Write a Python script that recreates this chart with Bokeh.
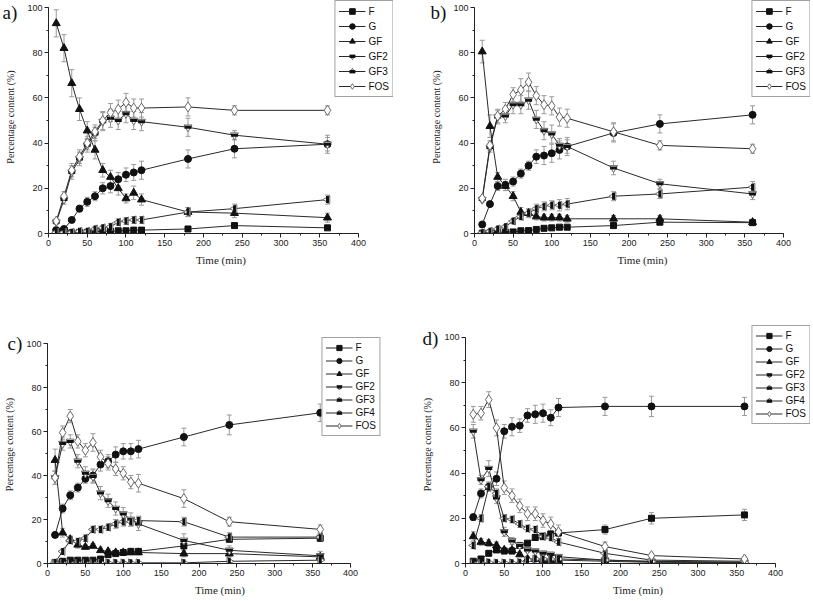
import math
from bokeh.plotting import figure
from bokeh.models import (ColumnDataSource, Whisker, TeeHead, Legend, LegendItem, Label,
                          SingleIntervalTicker, Range1d)
from bokeh.layouts import column, row
from bokeh.embed import file_html
from bokeh.resources import INLINE

time_min = [10, 20, 30, 40, 50, 60, 70, 80, 90, 100, 110, 120, 180, 240, 360]

# ---------------- panel a ----------------
a_F = [1.0, 1.5, 0.3, 0.5, 0.5, 0.8, 1.0, 1.0, 1.2, 1.2, 1.5, 1.5, 2.0, 3.5, 2.5]
a_G = [1.5, 2.0, 6.0, 11.0, 14.0, 16.5, 20.0, 21.0, 24.0, 26.0, 27.0, 28.0, 33.0, 37.5, 39.5]
a_GF = [93, 82, 66.5, 55, 45.5, 37, 28, 25, 20, 15.5, 18, 15, 9.5, 9, 7]
a_GF2 = [5, 15, 27, 33, 39, 44, 49.5, 51, 50, 53, 50, 49.5, 47, 43.5, 39.5]
a_GF3 = [0.5, 0.5, 0.5, 1, 1, 2, 2.5, 3, 5, 5.5, 6, 6, 9.5, 11, 15]
a_FOS = [5.5, 16.5, 28, 34, 40, 45, 50, 53.5, 55, 58, 55.5, 55.5, 56, 54.5, 54.5]
a_F_err = [0.5, 0.5, 0.3, 0.3, 0.3, 0.5, 0.5, 0.5, 0.5, 0.5, 0.5, 0.5, 0.8, 0.8, 0.8]
a_G_err = [0.5, 0.8, 1, 1.5, 2, 2, 2.5, 3, 3, 3, 3.5, 4, 4, 4, 4]
a_GF_err = [6, 6, 6, 5, 4, 4, 3, 3, 3, 2, 3, 2.5, 2, 2, 2]
a_GF2_err = [1, 2, 3, 3, 3, 3, 4, 4, 4, 4, 4, 4, 4, 2, 3]
a_GF3_err = [0.3, 0.3, 0.5, 0.5, 0.5, 1, 1, 1.5, 1.5, 1.5, 1.5, 1.5, 2, 2, 2]
a_FOS_err = [1, 2, 3, 3, 3, 3, 4, 4, 4, 4, 4, 4, 4, 2, 2]

# ---------------- panel b ----------------
b_F = [0.1, 0.3, 0.5, 0.6, 0.7, 1.2, 1.3, 1.8, 2.3, 2.5, 2.8, 2.8, 3.5, 5.0, 4.8]
b_G = [4, 13, 21, 21.5, 23, 26.5, 30, 34, 34.5, 35.5, 37, 38.5, 44.5, 48.5, 52.5]
b_GF = [80.5, 47.5, 25, 21, 16.5, 9.5, 9, 7.5, 7, 7, 7, 6.5, 6.5, 6.5, 5]
b_GF2 = [15, 38, 51.5, 52, 57, 57, 59, 50.5, 45.5, 44, 39, 38.5, 29, 22, 17.5]
b_GF3 = [0.3, 1, 2, 3, 5.5, 7.5, 9, 11, 12, 12.5, 12.5, 13, 16.5, 17.5, 20.5]
b_FOS = [15.5, 39, 52, 55, 61.5, 63.5, 67, 61, 57, 56.5, 51.5, 51, 45, 39, 37.5]
b_F_err = [0.2, 0.3, 0.3, 0.3, 0.3, 0.4, 0.4, 0.5, 0.5, 0.5, 0.5, 0.5, 0.8, 1, 1]
b_G_err = [0.5, 1, 2, 2.5, 2, 2, 2, 3, 4, 4, 4, 4, 4, 4, 4]
b_GF_err = [5, 5, 2, 2, 2, 2, 2, 1.5, 1.5, 1.5, 1.5, 1.5, 1.5, 1.5, 1]
b_GF2_err = [1, 2, 3, 3, 4, 4, 4, 4, 4, 4, 3, 3, 3, 2, 2.5]
b_GF3_err = [0.3, 0.5, 1, 1, 1, 1.5, 1.5, 2, 2, 2, 2.5, 2.5, 2, 2, 2.5]
b_FOS_err = [1, 2, 3, 3, 3, 5, 4, 4, 4, 4, 4, 4, 4, 2, 2]

# ---------------- panel c ----------------
c_F = [0.5, 1, 1.5, 1.5, 1.5, 1.5, 2, 4, 4.5, 5, 5.5, 5.5, 8, 11, 11.5]
c_G = [13, 25, 31, 34.5, 38.5, 40, 45, 46.5, 49.5, 51, 51, 52, 57.5, 63, 68.5]
c_GF = [47, 14, 11, 8.5, 7.5, 8, 6, 5.5, 5, 5, 5, 5, 4.5, 4.5, 3]
c_GF2 = [39, 54.5, 55.5, 46.5, 41, 39.5, 32, 28.5, 25, 22.5, 20, 18, 10.5, 6, 3.5]
c_GF3 = [0.5, 5.5, 10.5, 10, 11.5, 15.5, 15.5, 16.5, 18, 19, 19, 19.5, 19, 12, 12]
c_GF4 = [0, 0, 0, 0, 0, 0, 0.2, 0.3, 0.3, 0.3, 0.3, 0.3, 0.3, 1, 1.5]
c_FOS = [39, 59.5, 67, 55.5, 51.5, 55, 48.5, 45.5, 43, 41, 37, 36.5, 29.5, 19, 15.5]
c_F_err = [0.3, 0.3, 0.3, 0.3, 0.3, 0.3, 0.3, 0.5, 0.5, 0.5, 0.5, 0.5, 1, 1, 1]
c_G_err = [1, 2, 2, 2, 2, 3, 3, 3, 3.5, 3.5, 3.5, 4, 4, 4.5, 4]
c_GF_err = [5, 2, 1.5, 1.5, 1, 1, 1, 1, 1, 1, 1, 1, 1.5, 1.5, 1]
c_GF2_err = [3, 3, 3, 3, 3, 3, 3, 3, 3, 3, 3, 3, 3, 2, 2]
c_GF3_err = [0.5, 1, 1.5, 1.5, 1.5, 1.5, 1.5, 1.5, 2, 2, 2, 2, 2, 2, 2]
c_GF4_err = [0.2, 0.2, 0.2, 0.2, 0.2, 0.2, 0.2, 0.3, 0.3, 0.3, 0.3, 0.3, 0.5, 0.5, 0.5]
c_FOS_err = [3, 3, 3, 3, 3, 4, 3, 3, 3, 3, 3, 4, 4, 2, 2]

# ---------------- panel d ----------------
d_F = [1, 2, 4.5, 6, 5.5, 5.5, 8, 9, 11.5, 12, 13, 13.5, 15, 20, 21.5]
d_G = [20.5, 31, 34, 37.5, 58.5, 60.5, 61, 65.5, 66, 66.5, 64.5, 69, 69.5, 69.5, 69.5]
d_GF = [12, 9.5, 9, 8, 6, 6, 4, 2, 2, 1.5, 1.5, 1.5, 1, 0.5, 0.5]
d_GF2 = [58.5, 37, 42, 29, 14, 10, 8, 6, 5.5, 4.5, 4, 3, 1.5, 1, 0.5]
d_GF3 = [8, 20, 34, 31, 20, 19.5, 17.5, 15.5, 15, 12, 11.5, 9.5, 4.5, 1.5, 1]
d_GF4 = [0, 0, 0.5, 0.3, 0.3, 0.3, 0.5, 1.5, 2, 2, 2, 2, 1.5, 0.8, 0.5]
d_FOS = [66, 66.5, 72.5, 60, 33.5, 30, 25.5, 22, 22, 19, 17.5, 14, 7.5, 3.5, 2]
d_F_err = [0.5, 0.5, 0.8, 1, 1, 1, 1, 1, 1, 1.5, 1.5, 1.5, 2, 2.5, 2.5]
d_G_err = [1.5, 2, 2, 3, 3, 4, 3, 3, 4, 4, 3.5, 4, 4, 4.5, 4]
d_GF_err = [2, 1.5, 1.5, 1.5, 1, 1, 1, 1, 1, 0.8, 0.8, 0.8, 0.5, 0.5, 0.5]
d_GF2_err = [3, 2, 3.5, 2.5, 2, 1.5, 1, 1, 1, 1, 1, 1, 0.5, 0.5, 0.5]
d_GF3_err = [1.5, 1.5, 2, 2, 1.5, 1.5, 1.5, 1.5, 1.5, 1.5, 1.5, 1.5, 1, 0.5, 0.5]
d_GF4_err = [0.2, 0.2, 0.3, 0.3, 0.3, 0.3, 0.3, 0.5, 0.5, 0.5, 0.5, 0.5, 0.5, 0.3, 0.3]
d_FOS_err = [3.5, 3, 3.5, 3.5, 3, 3, 3, 3, 3, 3, 3, 3, 2, 1, 1]

x_tick_interval = 50
y_tick_interval = 20
x_label = "Time (min)"
y_label = "Percentage content (%)"

# ---------------- styling ----------------
DARK = "#111111"
LINE = "#2a2a2a"
ERR = "#9a9a9a"
HOLLOW = "#6a6a6a"
MARKERS = {
    "F": [dict(marker="square", size=6, fill_color=DARK, line_color=DARK)],
    "G": [dict(marker="circle", size=7, fill_color=DARK, line_color=DARK)],
    "GF": [dict(marker="triangle", size=8, fill_color=DARK, line_color=DARK)],
    "GF2": [dict(marker="inverted_triangle", size=8, fill_color="white", line_color=HOLLOW),
            dict(marker="dash", size=7, line_width=3, line_color=DARK)],
    "GF3": [dict(marker="triangle", size=8, angle=math.pi / 2, fill_color="white", line_color=HOLLOW),
            dict(marker="dash", size=7, angle=math.pi / 2, line_width=3, line_color=DARK)],
    "GF4": [dict(marker="triangle", size=8, angle=-math.pi / 2, fill_color="white", line_color=HOLLOW),
            dict(marker="dash", size=7, angle=math.pi / 2, line_width=3, line_color=DARK)],
    "FOS": [dict(marker="diamond", size=10, fill_color="white", line_color=HOLLOW)],
}


def make_panel(letter, series, errors, width, height, bl, br, bt, bb, x_end, y_end,
               letter_side, letter_x, letter_y, item_h, spacing, legend_margin):
    p = figure(width=width, height=height, output_backend="svg", toolbar_location=None,
               x_range=Range1d(0, x_end), y_range=Range1d(0, y_end),
               min_border_left=bl, min_border_right=br, min_border_top=bt, min_border_bottom=bb)
    p.outline_line_color = None
    p.xgrid.visible = False
    p.ygrid.visible = False
    p.background_fill_color = "white"
    p.border_fill_color = "white"

    for ax, interval, bounds, lab in ((p.xaxis[0], x_tick_interval, (0, 400), x_label),
                                      (p.yaxis[0], y_tick_interval, (0, 100), y_label)):
        ax.ticker = SingleIntervalTicker(interval=interval, num_minor_ticks=2)
        ax.bounds = bounds
        ax.axis_label = lab
        ax.axis_label_text_font = "Liberation Serif"
        ax.axis_label_text_font_style = "normal"
        ax.axis_label_text_color = "#222222"
        ax.major_label_text_font = "Liberation Sans"
        ax.major_label_text_font_size = "9px"
        ax.major_label_text_color = "#222222"
        ax.major_label_standoff = 2
        ax.axis_line_color = "#222222"
        ax.major_tick_line_color = "#222222"
        ax.minor_tick_line_color = "#222222"
        ax.major_tick_out = 4
        ax.major_tick_in = 0
        ax.minor_tick_out = 2
        ax.minor_tick_in = 0
    p.xaxis.axis_label_text_font_size = "11px"
    p.xaxis.axis_label_standoff = 5
    p.yaxis.axis_label_text_font_size = "10px"
    p.yaxis.axis_label_standoff = 8

    items = []
    for name in series:
        vals = series[name]
        errs = errors[name]
        src = ColumnDataSource(dict(
            t=time_min, v=vals,
            upper=[v + e for v, e in zip(vals, errs)],
            lower=[v - e for v, e in zip(vals, errs)]))
        wh = Whisker(source=src, base="t", upper="upper", lower="lower",
                     line_color=ERR, line_width=1, level="underlay",
                     upper_head=TeeHead(size=5, line_color=ERR, line_width=1),
                     lower_head=TeeHead(size=5, line_color=ERR, line_width=1))
        p.add_layout(wh)
        rs = [p.line("t", "v", source=src, line_color=LINE, line_width=1)]
        for m in MARKERS[name]:
            rs.append(p.scatter("t", "v", source=src, **m))
        items.append(LegendItem(label=name, renderers=rs))

    leg = Legend(items=items, location="top_right", margin=legend_margin, padding=3,
                 spacing=spacing,
                 label_text_font="Liberation Sans", label_text_font_size="10px",
                 label_text_color="#111111",
                 glyph_width=27, glyph_height=item_h, label_height=item_h, label_standoff=3,
                 border_line_color="#444444", border_line_width=1,
                 background_fill_color="white", background_fill_alpha=1)
    p.add_layout(leg)

    # panel letter, held in a side panel that has spare room (so it is not clipped)
    p.add_layout(Label(x=letter_x, y=letter_y, x_units="screen", y_units="screen",
                       text=letter, text_font="Liberation Serif", text_font_size="19px",
                       text_baseline="top", text_align="left", text_color="#111111"),
                 letter_side)
    return p


pa = make_panel("a)",
                {"F": a_F, "G": a_G, "GF": a_GF, "GF2": a_GF2, "GF3": a_GF3, "FOS": a_FOS},
                {"F": a_F_err, "G": a_G_err, "GF": a_GF_err, "GF2": a_GF2_err,
                 "GF3": a_GF3_err, "FOS": a_FOS_err},
                width=405, height=297, bl=48, br=12, bt=0, bb=64, x_end=445.2, y_end=103.1,
                letter_side="below", letter_x=-46, letter_y=288, item_h=14, spacing=1,
                legend_margin=0)
pb = make_panel("b)",
                {"F": b_F, "G": b_G, "GF": b_GF, "GF2": b_GF2, "GF3": b_GF3, "FOS": b_FOS},
                {"F": b_F_err, "G": b_G_err, "GF": b_GF_err, "GF2": b_GF2_err,
                 "GF3": b_GF3_err, "FOS": b_FOS_err},
                width=406, height=297, bl=69, br=1, bt=0, bb=64, x_end=435.0, y_end=103.1,
                letter_side="below", letter_x=-44, letter_y=288, item_h=14, spacing=1,
                legend_margin=0)
pc = make_panel("c)",
                {"F": c_F, "G": c_G, "GF": c_GF, "GF2": c_GF2, "GF3": c_GF3, "GF4": c_GF4,
                 "FOS": c_FOS},
                {"F": c_F_err, "G": c_G_err, "GF": c_GF_err, "GF2": c_GF2_err,
                 "GF3": c_GF3_err, "GF4": c_GF4_err, "FOS": c_FOS_err},
                width=405, height=302, bl=47, br=13, bt=28, bb=36, x_end=455.4, y_end=108.2,
                letter_side="above", letter_x=-40, letter_y=-7, item_h=13, spacing=0,
                legend_margin=12)
pd_ = make_panel("d)",
                 {"F": d_F, "G": d_G, "GF": d_GF, "GF2": d_GF2, "GF3": d_GF3, "GF4": d_GF4,
                  "FOS": d_FOS},
                 {"F": d_F_err, "G": d_G_err, "GF": d_GF_err, "GF2": d_GF2_err,
                  "GF3": d_GF3_err, "GF4": d_GF4_err, "FOS": d_FOS_err},
                 width=406, height=302, bl=60, br=1, bt=28, bb=36, x_end=445.2, y_end=105.3,
                 letter_side="above", letter_x=-43, letter_y=-2, item_h=13, spacing=0,
                 legend_margin=0)

layout = column(row(pa, pb), row(pc, pd_))
open("out.html", "w").write(file_html(layout, INLINE))
